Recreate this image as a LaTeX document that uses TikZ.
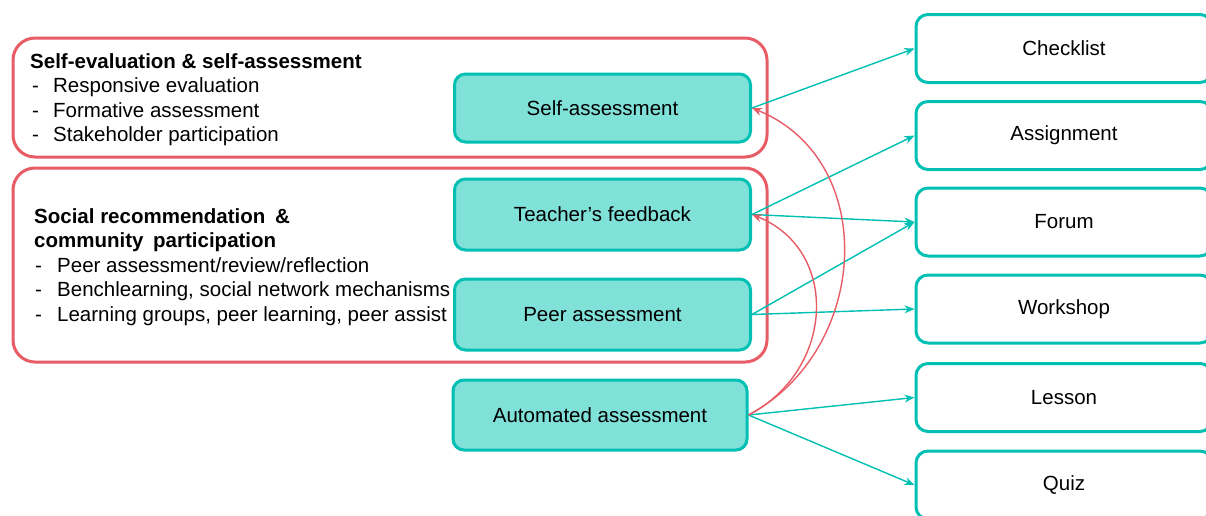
\documentclass[tikz,border=0pt]{standalone}
\usepackage{fontspec}
\setmainfont{Liberation Sans}
\usetikzlibrary{arrows.meta}
\definecolor{tealline}{RGB}{0,192,180}
\definecolor{tealfill}{RGB}{128,225,217}
\definecolor{redline}{RGB}{232,92,102}
\begin{document}
\begin{tikzpicture}[x=1pt,y=-1pt,
  txt/.style={font=\fontsize{20.5}{24.5}\selectfont},
  midbox/.style={txt, draw=tealline, fill=tealfill, line width=3pt, rounded corners=11pt,
    minimum width=296pt, minimum height=68pt, inner sep=0pt},
  sidebox/.style={txt, draw=tealline, fill=white, line width=3pt, rounded corners=12pt,
    minimum width=296pt, minimum height=68pt, inner sep=0pt},
  groupbox/.style={draw=redline, line width=3pt, rounded corners=22pt, inner sep=0pt},
  tarrow/.style={draw=tealline, line width=1.4pt, -{Stealth[length=10pt,width=8pt]}},
  rarrow/.style={draw=redline, line width=1.4pt, -{Stealth[length=10pt,width=8pt]}},
]
\clip (0,0) rectangle (1206,515);
\fill[white] (0,0) rectangle (1206,515);

% group boxes
\node[groupbox, minimum width=754pt, minimum height=119pt] (g1) at (390,97.5) {};
\node[groupbox, minimum width=754pt, minimum height=194pt] (g2) at (390,265) {};

% group texts
\node[txt, anchor=base west, inner sep=0pt] (g1text) at (30,68) {%
  \begin{tabular}[t]{@{}l@{}}
  \textbf{Self-evaluation \& self-assessment}\\
  \hspace{2pt}\makebox[21pt][l]{-}Responsive evaluation\\
  \hspace{2pt}\makebox[21pt][l]{-}Formative assessment\\
  \hspace{2pt}\makebox[21pt][l]{-}Stakeholder participation
  \end{tabular}};
\node[txt, anchor=base west, inner sep=0pt] (g2text) at (34,223) {%
  \begin{tabular}[t]{@{}l@{}}
  \textbf{Social recommendation\hspace{4pt} \&}\\
  \textbf{community\hspace{4pt} participation}\\
  \hspace{1pt}\makebox[22pt][l]{-}Peer assessment/review/reflection\\
  \hspace{1pt}\makebox[22pt][l]{-}Benchlearning, social network mechanisms\\
  \hspace{1pt}\makebox[22pt][l]{-}Learning groups, peer learning, peer assist
  \end{tabular}};

% middle boxes
\node[midbox] (self) at (602.5,108) {Self-assessment};
\node[midbox, minimum height=71pt] (teach) at (602.5,214.5) {Teacher’s feedback};
\node[midbox, minimum height=71pt] (peer) at (602.5,314.5) {Peer assessment};
\node[midbox, minimum height=70pt, minimum width=294pt] (auto) at (600,415) {Automated assessment};

% right boxes
\node[sidebox] (check) at (1064,48.5) {Checklist};
\node[sidebox] (assign) at (1064,135.5) {Assignment};
\node[sidebox] (forum) at (1064,222) {Forum};
\node[sidebox] (work) at (1064,309) {Workshop};
\node[sidebox] (lesson) at (1064,397.5) {Lesson};
\node[sidebox] (quiz) at (1064,485) {Quiz};

% teal arrows
\draw[tarrow] (self.east) -- (check.west);
\draw[tarrow] (teach.east) -- (assign.west);
\draw[tarrow] (teach.east) -- (forum.west);
\draw[tarrow] (peer.east) -- (forum.west);
\draw[tarrow] (peer.east) -- (work.west);
\draw[tarrow] (auto.east) -- (lesson.west);
\draw[tarrow] (auto.east) -- (quiz.west);

% red curved arrows
\draw[rarrow] (auto.east) .. controls (870,350) and (880,160) .. (self.east);
\draw[rarrow] (auto.east) .. controls (835,370) and (840,250) .. (teach.east);
\end{tikzpicture}
\end{document}
